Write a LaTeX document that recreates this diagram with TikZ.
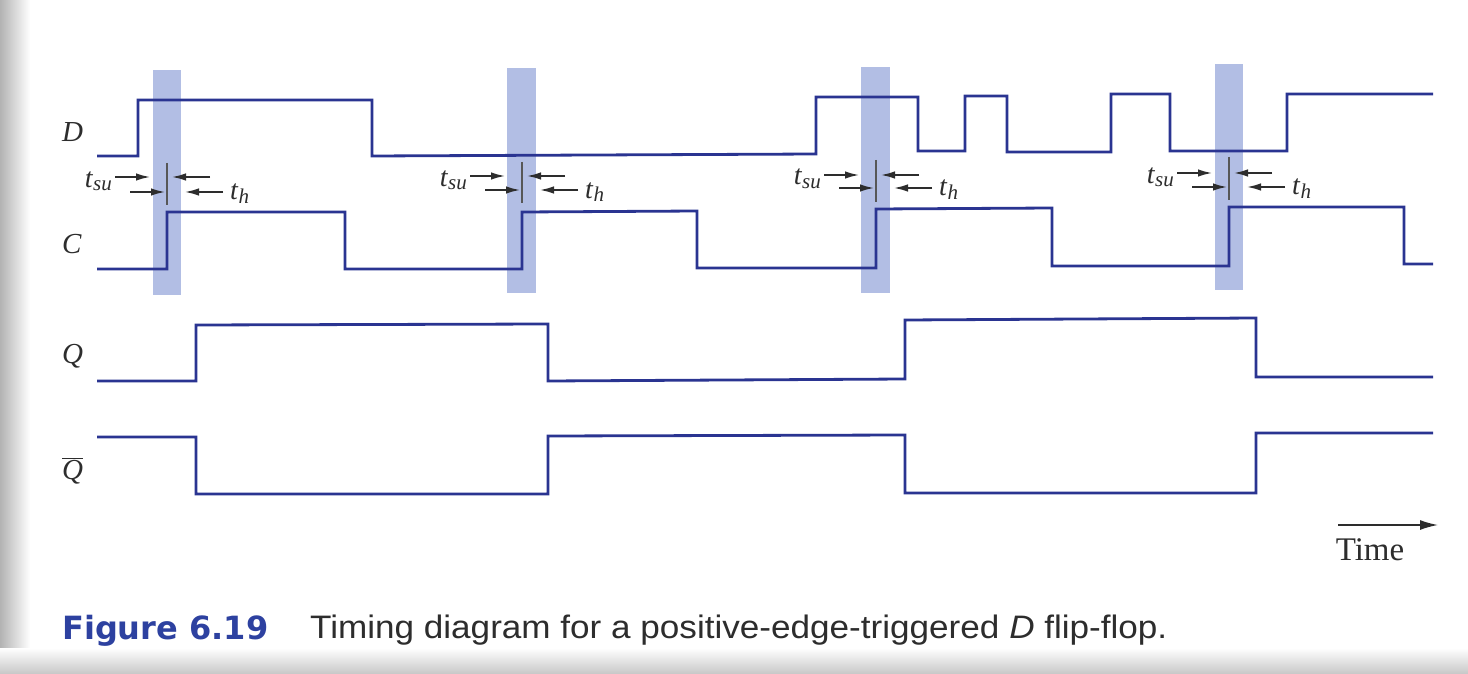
\documentclass[tikz,border=0pt]{standalone}
\usepackage{fontspec}
\setmainfont{Liberation Serif}
\newfontfamily\capfont[FakeStretch=1.08]{Liberation Sans}
\newfontfamily\figfont{DejaVu Sans}
\usetikzlibrary{arrows.meta}
\definecolor{sig}{RGB}{42,52,145}
\definecolor{band}{RGB}{178,190,228}
\definecolor{figblue}{RGB}{45,65,160}
\definecolor{ink}{RGB}{45,45,45}
\newcommand\tsulabel{\textit{t}\raisebox{-0.12em}{\fontsize{21}{21}\selectfont\itshape su}}
\newcommand\thlabel{\textit{t}\raisebox{-0.12em}{\fontsize{21}{21}\selectfont\itshape h}}
\begin{document}
\begin{tikzpicture}[x=1pt,y=-1pt,
  signal/.style={draw=sig,line width=2.8pt,line join=miter},
  shade band/.style={fill=band,draw=none},
  edgetick/.style={draw=ink!80,line width=1.5pt},
  dimarrow/.style={draw=ink,line width=1.6pt,-{Latex[length=14pt,width=7.5pt]}},
  siglabel/.style={anchor=base west,inner sep=0pt,font=\fontsize{29}{29}\selectfont\itshape,text=ink},
  tlabel/.style={inner sep=0pt,font=\fontsize{28}{28}\selectfont,text=ink}]
\useasboundingbox (0,0) rectangle (1468,674);
\fill[white] (0,0) rectangle (1468,674);
\shade[left color=black!30,right color=white] (0,0) rectangle (30,674);
\shade[top color=white,bottom color=black!22] (0,648) rectangle (1468,674);

% shaded bands
\fill[shade band] (153,70) rectangle (181,295);
\fill[shade band] (507,68) rectangle (536,293);
\fill[shade band] (861,67) rectangle (890,293);
\fill[shade band] (1215,64) rectangle (1243,290);

% D
\draw[signal] (97,156) -- (138,156) -- (138,100) -- (372,100) -- (372,156) -- (816,154) -- (816,97) -- (918,97) -- (918,151) -- (965,151) -- (965,96) -- (1007,96) -- (1007,152) -- (1111,152) -- (1111,94) -- (1170,94) -- (1170,151) -- (1287,151) -- (1287,94) -- (1433,94);
% C
\draw[signal] (97,269) -- (167,269) -- (167,212) -- (345,212) -- (345,269) -- (522,269) -- (522,212) -- (697,211) -- (697,268) -- (876,268) -- (876,209) -- (1052,208) -- (1052,266) -- (1229,266) -- (1229,207) -- (1404,207) -- (1404,264) -- (1433,264);
% Q
\draw[signal] (97,381) -- (196,381) -- (196,325) -- (548,324) -- (548,381) -- (905,379) -- (905,320) -- (1256,318) -- (1256,377) -- (1433,377);
% Q bar
\draw[signal] (97,437) -- (196,437) -- (196,494) -- (548,494) -- (548,436) -- (905,435) -- (905,493) -- (1256,493) -- (1256,433) -- (1433,433);

% setup / hold annotations
\foreach \T/\ya/\yb/\yt/\yl [count=\i] in {167/177/192/163/205, 522/176/190/162/203, 876/175/188/160/202, 1229/173/187/157/200} {
  \draw[edgetick] (\T,\yt) -- (\T,\yl);
  \draw[dimarrow] (\T-52,\ya) -- (\T-17,\ya);
  \draw[dimarrow] (\T+43,\ya) -- (\T+5,\ya);
  \draw[dimarrow] (\T-37,\yb) -- (\T-2,\yb);
  \draw[dimarrow] (\T+56,\yb) -- (\T+18,\yb);
  \node[tlabel,anchor=base east] (tsu\i) at (\T-55,\ya+10) {\tsulabel};
  \node[tlabel,anchor=base west] (th\i) at (\T+63,\yb+8) {\thlabel};
}

% signal names
\node[siglabel] (lD) at (62,142) {D};
\node[siglabel] (lC) at (62,253) {C};
\node[siglabel] (lQ) at (62,363) {Q};
\node[siglabel] (lQb) at (62,479) {$\overline{\hbox{\itshape Q}}$};

% time axis
\coordinate (t0) at (1338,525);
\coordinate (t1) at (1438,525);
\draw[draw=ink,line width=1.6pt,-{Latex[length=18pt,width=10pt]}] (t0) -- (t1);
\node[anchor=base,inner sep=0pt,font=\fontsize{33}{33}\selectfont,text=ink] (time) at (1370,560) {Time};

% caption
\node[anchor=base west,inner sep=0pt,font=\figfont\bfseries\fontsize{32}{32}\selectfont,text=figblue] (fig) at (62,639) {Figure 6.19};
\node[anchor=base west,inner sep=0pt,font=\capfont\fontsize{32.5}{32.5}\selectfont,text=ink] (cap) at (310,638) {Timing diagram for a positive-edge-triggered \textit{D} flip-flop.};
\end{tikzpicture}
\end{document}
